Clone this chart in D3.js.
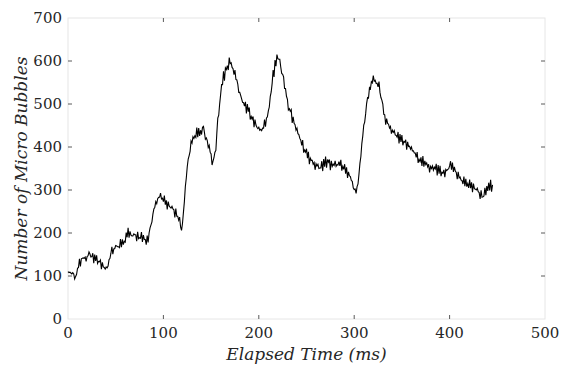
<!DOCTYPE html>
<html>
<head>
<meta charset="utf-8">
<script src="https://cdn.jsdelivr.net/npm/d3@7"></script>
<style>
  body { margin: 0; background: #fff; }
</style>
</head>
<body>
<div id="chart"></div>
<script>
// sample spacing of the recording (ms)
const stepMs = 1;

// bubble counts, one per ms, starting at 0 ms (10 samples per row)
const bubbleCounts = [
  110, 108, 109, 107, 105, 108, 105, 93, 99, 104,
  118, 120, 140, 122, 140, 141, 142, 141, 144, 134,
  145, 147, 156, 151, 144, 145, 153, 130, 150, 135,
  148, 129, 134, 133, 137, 116, 132, 121, 120, 116,
  121, 119, 123, 138, 141, 153, 168, 151, 163, 164,
  171, 170, 168, 168, 166, 186, 167, 185, 173, 181,
  179, 201, 190, 212, 189, 204, 195, 193, 193, 198,
  196, 196, 181, 203, 187, 189, 188, 202, 179, 195,
  185, 185, 173, 194, 178, 200, 212, 219, 226, 244,
  256, 260, 273, 268, 280, 283, 283, 293, 279, 281,
  273, 287, 266, 276, 255, 273, 263, 260, 258, 262,
  256, 254, 236, 257, 239, 239, 230, 237, 214, 206,
  222, 248, 273, 308, 328, 354, 372, 380, 390, 414,
  409, 424, 420, 426, 422, 445, 423, 444, 426, 439,
  429, 446, 448, 434, 418, 421, 415, 399, 404, 388,
  384, 358, 367, 375, 388, 392, 432, 467, 474, 501,
  522, 545, 545, 576, 554, 584, 580, 589, 579, 608,
  594, 596, 585, 582, 568, 579, 557, 556, 546, 527,
  527, 520, 512, 504, 503, 495, 505, 478, 500, 482,
  492, 464, 471, 465, 471, 446, 464, 451, 446, 443,
  446, 439, 441, 438, 444, 444, 464, 447, 467, 470,
  484, 493, 517, 528, 548, 579, 563, 602, 588, 615,
  605, 604, 604, 586, 571, 569, 563, 536, 536, 518,
  511, 486, 489, 483, 487, 456, 470, 455, 452, 439,
  444, 431, 429, 420, 416, 404, 416, 387, 393, 388,
  396, 374, 389, 360, 374, 369, 369, 360, 364, 347,
  361, 356, 360, 350, 351, 351, 367, 344, 372, 354,
  378, 352, 371, 365, 371, 346, 368, 355, 360, 357,
  368, 355, 359, 358, 366, 356, 370, 345, 355, 348,
  360, 338, 353, 328, 342, 333, 331, 322, 320, 305,
  301, 302, 292, 308, 314, 337, 362, 378, 408, 426,
  451, 458, 477, 501, 515, 514, 538, 535, 552, 549,
  566, 553, 555, 548, 548, 540, 552, 527, 515, 509,
  500, 476, 475, 452, 466, 455, 453, 444, 448, 431,
  439, 434, 438, 428, 427, 423, 435, 408, 430, 412,
  428, 404, 413, 411, 417, 394, 412, 401, 402, 395,
  400, 391, 391, 386, 386, 376, 388, 363, 371, 366,
  376, 356, 379, 354, 368, 359, 363, 354, 360, 341,
  355, 350, 356, 346, 353, 349, 361, 334, 358, 338,
  356, 332, 341, 339, 347, 330, 348, 345, 348, 349,
  356, 367, 347, 364, 342, 354, 344, 341, 325, 342,
  328, 330, 323, 322, 314, 331, 309, 326, 308, 315,
  305, 324, 304, 318, 295, 315, 303, 302, 300, 304,
  296, 294, 279, 299, 283, 284, 286, 305, 288, 309,
  298, 317, 299, 324, 296, 312
];

const xTicks = [0, 100, 200, 300, 400, 500];
const yTicks = [0, 100, 200, 300, 400, 500, 600, 700];
const xLabel = "Elapsed Time (ms)";
const yLabel = "Number of Micro Bubbles";

const width = 565, height = 367;
const margin = { top: 18, right: 20, bottom: 48, left: 68 };
const plotW = width - margin.left - margin.right;
const plotH = height - margin.top - margin.bottom;
const serif = "'DejaVu Serif', 'Liberation Serif', serif";

const svg = d3.select("#chart").append("svg")
    .attr("width", width)
    .attr("height", height)
    .attr("font-family", serif);

const x = d3.scaleLinear().domain([0, 500]).range([0, plotW]);
const y = d3.scaleLinear().domain([0, 700]).range([plotH, 0]);

const g = svg.append("g")
    .attr("transform", `translate(${margin.left},${margin.top})`);

// box
g.append("rect")
    .attr("width", plotW)
    .attr("height", plotH)
    .attr("fill", "none")
    .attr("stroke", "#e6e6e6")
    .attr("stroke-width", 1);

// inward ticks on all four sides
const tickLen = 4;
const tickColor = "#5a5a5a";
g.append("g").selectAll("line").data(xTicks.slice(1, -1)).join("line")
    .attr("x1", d => x(d)).attr("x2", d => x(d))
    .attr("y1", plotH).attr("y2", plotH - tickLen)
    .attr("stroke", tickColor);
g.append("g").selectAll("line").data(xTicks.slice(1, -1)).join("line")
    .attr("x1", d => x(d)).attr("x2", d => x(d))
    .attr("y1", 0).attr("y2", tickLen)
    .attr("stroke", tickColor);
g.append("g").selectAll("line").data(yTicks.slice(1, -1)).join("line")
    .attr("y1", d => y(d)).attr("y2", d => y(d))
    .attr("x1", 0).attr("x2", tickLen)
    .attr("stroke", tickColor);
g.append("g").selectAll("line").data(yTicks.slice(1, -1)).join("line")
    .attr("y1", d => y(d)).attr("y2", d => y(d))
    .attr("x1", plotW).attr("x2", plotW - tickLen)
    .attr("stroke", tickColor);

// tick labels
g.append("g").selectAll("text").data(xTicks).join("text")
    .attr("x", d => x(d))
    .attr("y", plotH + 19)
    .attr("text-anchor", "middle")
    .attr("fill", "#262626")
    .style("font-size", "15px")
    .text(d => d);

g.append("g").selectAll("text").data(yTicks).join("text")
    .attr("x", -6)
    .attr("y", d => y(d))
    .attr("dy", "0.35em")
    .attr("text-anchor", "end")
    .attr("fill", "#262626")
    .style("font-size", "15px")
    .text(d => d);

// the series
const line = d3.line()
    .x((d, i) => x(i * stepMs))
    .y(d => y(d));

g.append("path")
    .datum(bubbleCounts)
    .attr("fill", "none")
    .attr("stroke", "#000")
    .attr("stroke-width", 1.1)
    .attr("d", line);

// axis titles
svg.append("text")
    .attr("x", margin.left + plotW / 2)
    .attr("y", height - 7)
    .attr("text-anchor", "middle")
    .attr("fill", "#262626")
    .style("font-size", "17px")
    .style("font-style", "italic")
    .text(xLabel);

svg.append("text")
    .attr("transform", `translate(27,${margin.top + plotH / 2}) rotate(-90)`)
    .attr("text-anchor", "middle")
    .attr("fill", "#262626")
    .style("font-size", "17px")
    .style("font-style", "italic")
    .text(yLabel);
</script>
</body>
</html>
